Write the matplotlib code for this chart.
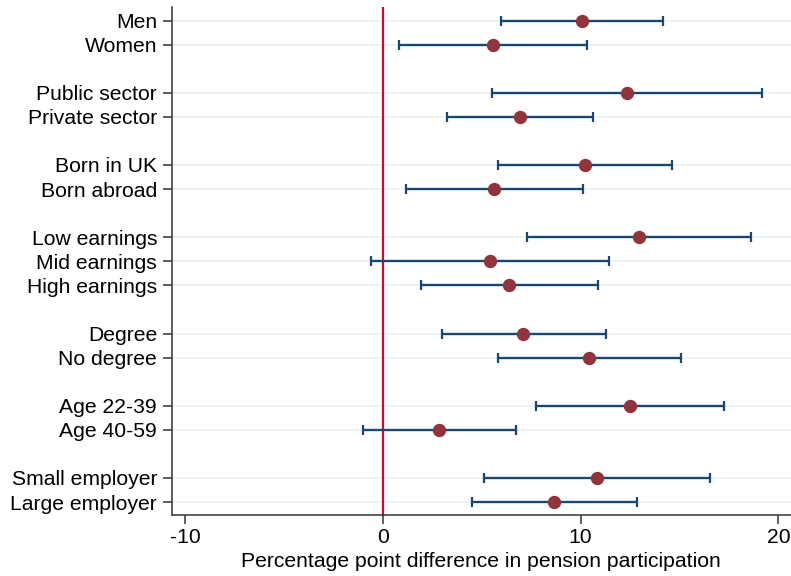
import numpy as np
import matplotlib.pyplot as plt

plt.rcParams["font.family"] = ["Liberation Sans", "DejaVu Sans"]
plt.rcParams["axes.unicode_minus"] = False

# subgroups, top to bottom; an empty gap separates each pair/triple
labels = ["Men", "Women",
          "Public sector", "Private sector",
          "Born in UK", "Born abroad",
          "Low earnings", "Mid earnings", "High earnings",
          "Degree", "No degree",
          "Age 22-39", "Age 40-59",
          "Small employer", "Large employer"]
positions = [0, 1, 3, 4, 6, 7, 9, 10, 11, 13, 14, 16, 17, 19, 20]

estimate = [10.07, 5.57, 12.33, 6.92, 10.24, 5.62, 12.95, 5.42, 6.40,
            7.10, 10.44, 12.50, 2.86, 10.83, 8.67]
ci_low = [5.99, 0.80, 5.50, 3.25, 5.84, 1.16, 7.27, -0.60, 1.92,
          2.98, 5.81, 7.76, -0.99, 5.13, 4.52]
ci_high = [14.15, 10.34, 19.19, 10.61, 14.64, 10.11, 18.63, 11.45, 10.86,
           11.28, 15.09, 17.25, 6.73, 16.54, 12.84]

est = np.array(estimate)
err = np.vstack([est - np.array(ci_low), np.array(ci_high) - est])

fig = plt.figure(figsize=(7.91, 5.76), dpi=100)
ax = fig.add_axes([0.217, 0.1054, 0.783, 0.882])

for y in positions:
    ax.axhline(y, color="#eaf2f3", lw=1.3, zorder=0)
ax.axvline(0, color="#c8102e", lw=1.6, zorder=1)

ax.errorbar(est, positions, xerr=err, fmt="none", ecolor="#1a476f",
            elinewidth=1.7, capsize=3.8, capthick=1.6, zorder=2)
ax.plot(est, positions, "o", color="#90353b", markersize=8.6, zorder=3)

ax.set_xlim(-10.67, 20.64)
ax.set_ylim(20.55, -0.55)
ax.set_xticks([-10, 0, 10, 20])
ax.set_yticks(positions)
ax.set_yticklabels(labels)
ax.tick_params(axis="both", labelsize=15.2, length=6.5, width=1.1, color="#333333")
ax.tick_params(axis="y", pad=4)
ax.tick_params(axis="x", pad=3)
ax.set_xlabel("Percentage point difference in pension participation",
              fontsize=15.2, labelpad=3)

for side in ("top", "right"):
    ax.spines[side].set_visible(False)
for side in ("left", "bottom"):
    ax.spines[side].set_color("#333333")
    ax.spines[side].set_linewidth(1.1)

fig.savefig("out.png", dpi=100, facecolor="white")
